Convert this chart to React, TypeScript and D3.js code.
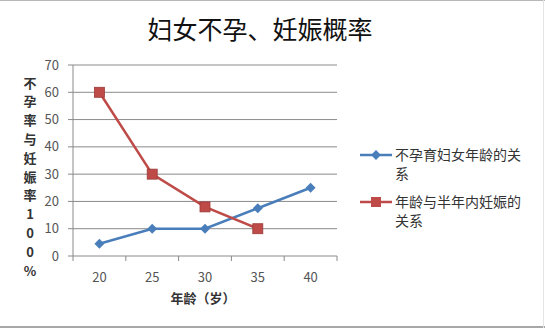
import React from "react";
import * as d3 from "d3";

const ages = ["20", "25", "30", "35", "40"];
const infertility = [4.5, 10, 10, 17.5, 25];
const pregnancyAges = ["20", "25", "30", "35"];
const pregnancy = [60, 30, 18, 10];
const yTicks = [0, 10, 20, 30, 40, 50, 60, 70];
const yTitleChars = ["不", "孕", "率", "与", "妊", "娠", "率", "1", "0", "0", "%"];
const legend1 = ["不孕育妇女年龄的关", "系"];
const legend2 = ["年龄与半年内妊娠的", "关系"];

const W = 545, H = 328;
const left = 73, right = 337, top = 65, bottom = 256;
const font = "'Noto Sans CJK SC', 'Noto Sans', sans-serif";
const blue = "#4A7EBB";
const red = "#BE4B48";

export default function App() {
  const x = d3.scaleBand<string>().domain(ages).range([left, right]);
  const y = d3.scaleLinear().domain([0, 70]).range([bottom, top]);
  const cx = (a: string) => (x(a) as number) + x.bandwidth() / 2;
  const line = d3.line<[string, number]>().x((d) => cx(d[0])).y((d) => y(d[1]));
  const blueData: [string, number][] = ages.map((a, i) => [a, infertility[i]]);
  const redData: [string, number][] = pregnancyAges.map((a, i) => [a, pregnancy[i]]);
  const bounds = ages.map((a) => x(a) as number).concat([right]);

  return (
    <svg width={W} height={H} style={{ position: "absolute", left: 0, top: 0, background: "#fff" }}>
      <rect x={0} y={0} width={W} height={H} fill="#fff" />
      <line x1={0} x2={W} y1={0.5} y2={0.5} stroke="#b8b8b8" />
      <line x1={0} x2={W} y1={327} y2={327} stroke="#a8a8a8" strokeWidth={2} />
      <line x1={543.5} x2={543.5} y1={0} y2={H} stroke="#e4e4e4" />
      <text x={260} y={39} textAnchor="middle" fontFamily={font} fontSize={25} fill="#111">
        妇女不孕、妊娠概率
      </text>
      {yTicks.map((t) => (
        <g key={t}>
          {t > 0 && (
            <line x1={left} x2={right} y1={y(t)} y2={y(t)} stroke="#8a8a8a" strokeWidth={1} />
          )}
          <line x1={left - 5} x2={left} y1={y(t)} y2={y(t)} stroke="#8a8a8a" />
          <text x={59} y={y(t)} dy="0.35em" textAnchor="end" fontFamily={font} fontSize={13} fill="#555">
            {t}
          </text>
        </g>
      ))}
      <line x1={left} x2={left} y1={top} y2={bottom} stroke="#8a8a8a" />
      <line x1={left} x2={right} y1={bottom} y2={bottom} stroke="#8a8a8a" />
      {bounds.map((b, i) => (
        <line key={i} x1={b} x2={b} y1={bottom} y2={bottom + 5} stroke="#8a8a8a" />
      ))}
      {ages.map((a) => (
        <text key={a} x={cx(a)} y={277} dy="0.35em" textAnchor="middle" fontFamily={font} fontSize={13} fill="#555">
          {a}
        </text>
      ))}
      <text x={203} y={298} dy="0.35em" textAnchor="middle" fontFamily={font} fontSize={13} fontWeight="bold" fill="#333">
        年龄（岁）
      </text>
      {yTitleChars.map((c, i) => (
        <text key={i} x={30} y={83 + i * 18.8} dy="0.35em" textAnchor="middle" fontFamily={font} fontSize={13} fontWeight="bold" fill="#333">
          {c}
        </text>
      ))}
      <path d={line(blueData) as string} fill="none" stroke={blue} strokeWidth={2.5} />
      {blueData.map((d, i) => (
        <rect key={i} x={cx(d[0]) - 3.5} y={y(d[1]) - 3.5} width={7} height={7} fill={blue}
          transform={`rotate(45 ${cx(d[0])} ${y(d[1])})`} />
      ))}
      <path d={line(redData) as string} fill="none" stroke={red} strokeWidth={2.5} />
      {redData.map((d, i) => (
        <rect key={i} x={cx(d[0]) - 5} y={y(d[1]) - 5} width={10} height={10} fill={red} stroke="#9c3a38" strokeWidth={0.8} />
      ))}
      <line x1={360} x2={392} y1={155} y2={155} stroke={blue} strokeWidth={2.5} />
      <rect x={372.5} y={151.5} width={7} height={7} fill={blue} transform="rotate(45 376 155)" />
      {legend1.map((s, i) => (
        <text key={i} x={395} y={155 + i * 19} dy="0.35em" fontFamily={font} fontSize={14} fill="#333">
          {s}
        </text>
      ))}
      <line x1={360} x2={392} y1={202} y2={202} stroke={red} strokeWidth={2.5} />
      <rect x={371} y={197} width={10} height={10} fill={red} />
      {legend2.map((s, i) => (
        <text key={i} x={395} y={202 + i * 19} dy="0.35em" fontFamily={font} fontSize={14} fill="#333">
          {s}
        </text>
      ))}
    </svg>
  );
}
